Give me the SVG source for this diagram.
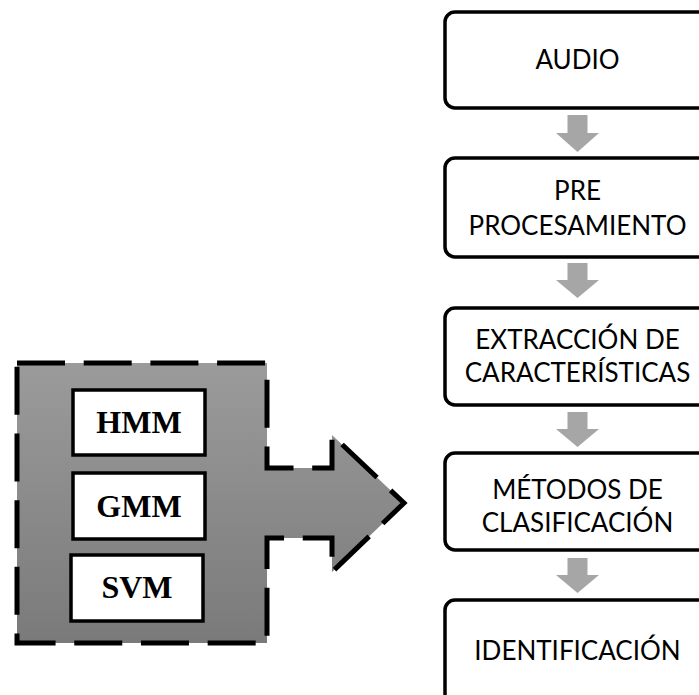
<svg xmlns="http://www.w3.org/2000/svg" width="699" height="695" viewBox="0 0 699 695">
<defs>
<linearGradient id="g" x1="0" y1="0" x2="0" y2="1">
<stop offset="0" stop-color="#9b9b9b"/>
<stop offset="1" stop-color="#7a7a7a"/>
</linearGradient>
<style>
.step rect{fill:#fff;stroke:#000;stroke-width:3.5}
.step text{font-family:Lato,"Open Sans","DejaVu Sans",sans-serif;font-size:26px;fill:#000;text-anchor:middle}
.alg rect{fill:#fff;stroke:#000;stroke-width:3.5}
.alg text{font-family:"Liberation Serif","Times New Roman",serif;font-weight:bold;font-size:32px;fill:#000;text-anchor:middle}
.conn path{fill:#a6a6a6}
</style>
</defs>
<rect width="699" height="695" fill="#fff"/>
<g id="methods">
<path d="M17,363 H267 V468 H332 V435 L404,503 L332,572 V538 H267 V643 H17 Z" fill="url(#g)" stroke="#000" stroke-width="5" stroke-dasharray="48 18.7"/>
<g class="alg" id="hmm"><rect x="73" y="390" width="132" height="65"/><text x="139" y="433">HMM</text></g>
<g class="alg" id="gmm"><rect x="73" y="473" width="132" height="66"/><text x="139" y="517">GMM</text></g>
<g class="alg" id="svm"><rect x="71" y="555" width="132" height="66"/><text x="137" y="598">SVM</text></g>
</g>
<g class="conn" id="connectors">
<path d="M567.5,115 H587.5 V133 H599 L577.5,152 L556,133 H567.5 Z"/>
<path d="M567.5,263 H587.5 V280 H599 L577.5,298 L556,280 H567.5 Z"/>
<path d="M567.5,412 H587.5 V429 H599 L577.5,447 L556,429 H567.5 Z"/>
<path d="M567.5,558 H587.5 V575 H599 L577.5,593 L556,575 H567.5 Z"/>
</g>
<g class="step" id="audio"><rect x="445" y="12" width="265" height="96" rx="10"/><text x="577.5" y="69">AUDIO</text></g>
<g class="step" id="pre"><rect x="445" y="158" width="265" height="99" rx="10"/><text x="577.5" y="200">PRE</text><text x="577.5" y="235">PROCESAMIENTO</text></g>
<g class="step" id="extraccion"><rect x="445" y="308" width="265" height="97" rx="10"/><text x="577.5" y="349">EXTRACCIÓN DE</text><text x="577.5" y="382">CARACTERÍSTICAS</text></g>
<g class="step" id="metodos"><rect x="445" y="453" width="265" height="97" rx="10"/><text x="577.5" y="499">MÉTODOS DE</text><text x="577.5" y="532">CLASIFICACIÓN</text></g>
<g class="step" id="identificacion"><rect x="445" y="600" width="265" height="110" rx="10"/><text x="577.5" y="660">IDENTIFICACIÓN</text></g>
</svg>
